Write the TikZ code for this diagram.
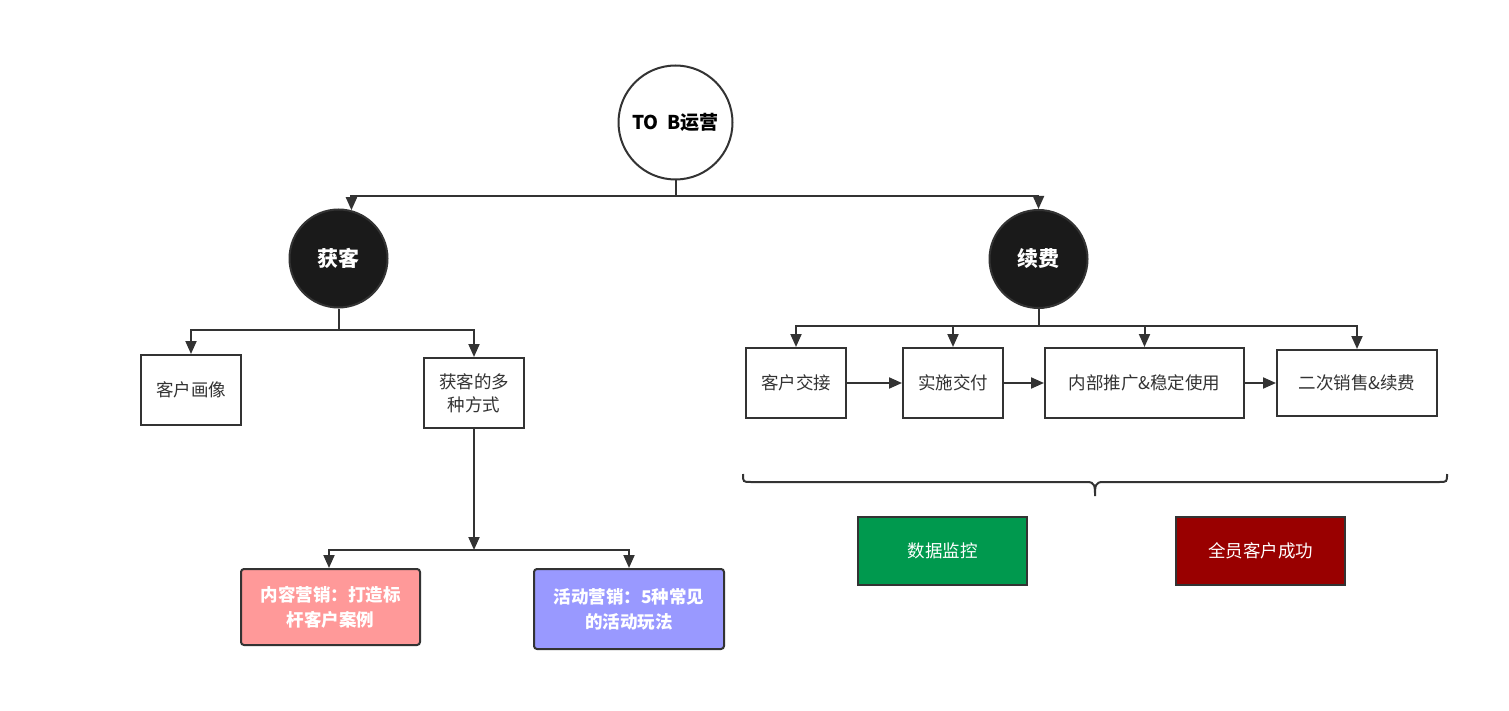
\documentclass[tikz,border=0pt]{standalone}
\usepackage{fontspec}
\setmainfont{Noto Sans CJK SC}
\usetikzlibrary{arrows.meta}
\definecolor{ln}{HTML}{333333}
\definecolor{circfill}{HTML}{1A1A1A}
\definecolor{pinkf}{HTML}{FF9999}
\definecolor{purf}{HTML}{9999FF}
\definecolor{greenf}{HTML}{00994E}
\definecolor{redf}{HTML}{990000}
\tikzset{
  conn/.style={draw=ln, line width=2pt},
  arr/.style={conn, -{Triangle[length=13pt,width=11pt]}},
  box/.style={draw=ln, line width=2pt, fill=white, inner sep=0pt, align=center, text=black!80, font=\fontsize{17.5}{23}\selectfont},
  cbox/.style={draw=ln, line width=2pt, rounded corners=3pt, inner sep=0pt, align=center, text=white, font=\fontsize{17.5}{25}\selectfont\bfseries},
  fbox/.style={draw=ln, line width=2pt, inner sep=0pt, align=center, text=white, font=\fontsize{17.5}{23}\selectfont},
  blackc/.style={circle, draw=ln, line width=2pt, fill=circfill, text=white, minimum size=98pt, inner sep=0pt, font=\fontsize{21}{25}\selectfont\bfseries},
}
\begin{document}
\begin{tikzpicture}[x=1pt,y=-1pt]
\useasboundingbox (0,0) rectangle (1509,711);
% root
\node[circle, draw=ln, line width=2pt, fill=white, minimum size=114pt, inner sep=0pt, font=\fontsize{19}{23}\selectfont\bfseries] (root) at (675.5,122.5) {TO\ \ B运营};
\node[blackc] (hk) at (338.5,258.5) {获客};
\node[blackc] (xf) at (1038.5,259) {续费};
% acquisition branch
\node[box, minimum width=100pt, minimum height=70pt] (hx) at (191,390) {客户画像};
\node[box, minimum width=100pt, minimum height=70pt] (fs) at (474,393) {获客的多\\种方式};
\node[cbox, fill=pinkf, minimum width=179pt, minimum height=76pt] (nr) at (330.5,607) {内容营销：打造标\\杆客户案例};
\node[cbox, fill=purf, minimum width=190pt, minimum height=80pt] (hd) at (629,609) {活动营销：5种常见\\的活动玩法};
% renewal branch
\node[box, minimum width=100pt, minimum height=70pt] (jj) at (796,383) {客户交接};
\node[box, minimum width=100pt, minimum height=70pt] (ss) at (953,383) {实施交付};
\node[box, minimum width=199pt, minimum height=70pt] (tg) at (1144.5,383) {内部推广\&稳定使用};
\node[box, minimum width=160pt, minimum height=66pt] (ec) at (1357,383) {二次销售\&续费};
\node[fbox, fill=greenf, minimum width=169pt, minimum height=68pt] (sj) at (942.5,551) {数据监控};
\node[fbox, fill=redf, minimum width=169pt, minimum height=68pt] (qy) at (1260.5,551) {全员客户成功};
% junctions
\coordinate (j1) at (675.5,196.5);
\coordinate (j2) at (338.5,330);
\coordinate (j3) at (474,550);
\coordinate (j4) at (1038.5,326);
% connectors
\draw[conn] (root) -- (j1);
\draw[arr] (j1) -| (hk.75);
\draw[arr] (j1) -| (xf);
\draw[conn] (hk) -- (j2);
\draw[arr] (j2) -| (hx);
\draw[arr] (j2) -| (fs);
\draw[arr] (fs) -- (j3);
\draw[arr] (j3) -| ([xshift=-1.5pt]nr.north);
\draw[arr] (j3) -| (hd);
\draw[conn] (xf) -- (j4);
\draw[arr] (j4) -| (jj);
\draw[arr] (j4) -| (ss);
\draw[arr] (j4) -| (tg);
\draw[arr] (j4) -| (ec);
\draw[arr] (jj) -- (ss);
\draw[arr] (ss) -- (tg);
\draw[arr] (tg) -- (ec);
% brace
\draw[draw=ln, line width=2pt] (743,474) .. controls (743,482) .. (751,482) -- (1087,482) .. controls (1095,482) and (1095,486) .. (1095,496)
  .. controls (1095,486) and (1095,482) .. (1103,482) -- (1439,482) .. controls (1447,482) .. (1447,474);
\end{tikzpicture}
\end{document}
